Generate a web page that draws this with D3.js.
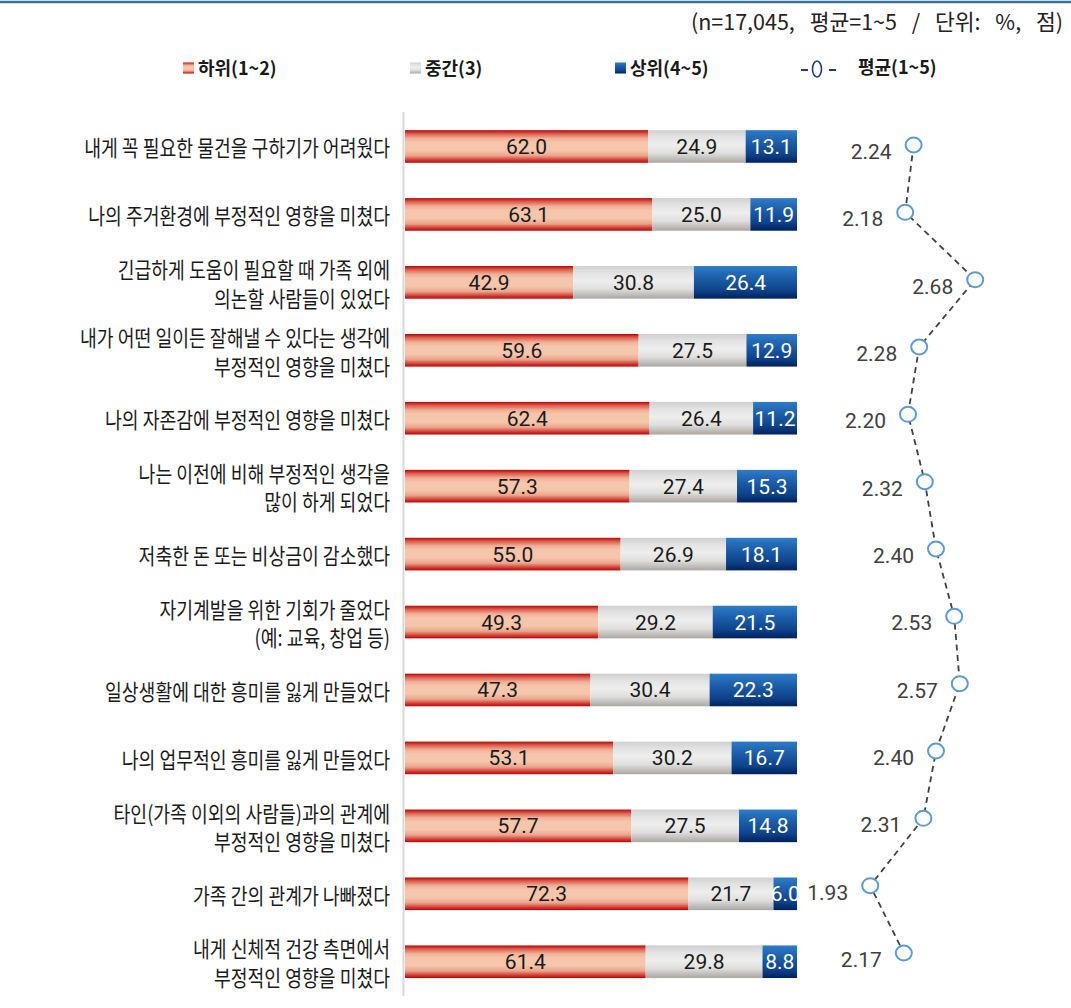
<!DOCTYPE html>
<html><head><meta charset="utf-8">
<script src="https://cdn.jsdelivr.net/npm/d3@7"></script>
<style>
html,body{margin:0;padding:0;background:#fff;}
svg{display:block;}
</style></head>
<body>
<svg id="chart" width="1071" height="1008"></svg>
<script>
const categories = [
  "내게 꼭 필요한 물건을 구하기가 어려웠다",
  "나의 주거환경에 부정적인 영향을 미쳤다",
  "긴급하게 도움이 필요할 때 가족 외에\n의논할 사람들이 있었다",
  "내가 어떤 일이든 잘해낼 수 있다는 생각에\n부정적인 영향을 미쳤다",
  "나의 자존감에 부정적인 영향을 미쳤다",
  "나는 이전에 비해 부정적인 생각을\n많이 하게 되었다",
  "저축한 돈 또는 비상금이 감소했다",
  "자기계발을 위한 기회가 줄었다\n(예: 교육, 창업 등)",
  "일상생활에 대한 흥미를 잃게 만들었다",
  "나의 업무적인 흥미를 잃게 만들었다",
  "타인(가족 이외의 사람들)과의 관계에\n부정적인 영향을 미쳤다",
  "가족 간의 관계가 나빠졌다",
  "내게 신체적 건강 측면에서\n부정적인 영향을 미쳤다"
];
const lowValues  = [62.0, 63.1, 42.9, 59.6, 62.4, 57.3, 55.0, 49.3, 47.3, 53.1, 57.7, 72.3, 61.4];
const midValues  = [24.9, 25.0, 30.8, 27.5, 26.4, 27.4, 26.9, 29.2, 30.4, 30.2, 27.5, 21.7, 29.8];
const highValues = [13.1, 11.9, 26.4, 12.9, 11.2, 15.3, 18.1, 21.5, 22.3, 16.7, 14.8, 6.0, 8.8];
const meanValues = [2.24, 2.18, 2.68, 2.28, 2.20, 2.32, 2.40, 2.53, 2.57, 2.40, 2.31, 1.93, 2.17];
const seriesNames = ["하위(1~2)", "중간(3)", "상위(4~5)"];
const meanName = "평균(1~5)";
const subtitle = "(n=17,045, 평균=1~5 / 단위: %, 점)";

const svg = d3.select("#chart");
const defs = svg.append("defs");

function grad(id, stops){
  const g = defs.append("linearGradient").attr("id", id)
    .attr("x1",0).attr("y1",0).attr("x2",0).attr("y2",1);
  stops.forEach(s => g.append("stop").attr("offset", s[0]).attr("stop-color", s[1]));
}
grad("gLow", [[0,"#c00000"],[0.1,"#d9574a"],[0.25,"#f0b096"],[0.38,"#f5c6ab"],[0.62,"#f5c6ab"],[0.78,"#eaa58d"],[0.9,"#d4473b"],[1,"#c00000"]]);
grad("gMid", [[0,"#cfcfcf"],[0.2,"#e2e2e2"],[0.45,"#eeeeee"],[0.7,"#e0dfde"],[1,"#aaa6a2"]]);
grad("gHigh", [[0,"#2e7cc8"],[0.35,"#1d5fab"],[0.75,"#0e4289"],[1,"#00215e"]]);
const fills = ["url(#gLow)", "url(#gMid)", "url(#gHigh)"];
const labelColors = ["#1a1a1a", "#1a1a1a", "#ffffff"];

// top rule
svg.append("line").attr("x1",0).attr("x2",1071).attr("y1",2).attr("y2",2)
  .attr("stroke","#3f6f9f").attr("stroke-width",2.5);

// subtitle
svg.append("text").attr("x",1063).attr("y",30).attr("text-anchor","end")
  .attr("font-family","'Noto Sans CJK KR', sans-serif").attr("font-size",21.5)
  .attr("word-spacing",10).attr("fill","#222").text(subtitle);

// scales
const x = d3.scaleLinear().domain([0,100]).range([405,797]);
const y = d3.scaleBand().domain(d3.range(categories.length)).range([112.5,995.7])
  .paddingInner(0.52).paddingOuter(0.26);
const ym = d3.scalePoint().domain(d3.range(categories.length)).range([145,953]);
const xm = d3.scaleLinear().domain([1.5,3.0]).range([810,1020]);

// stacked data
const rows = categories.map((c,i)=>({i, vals:[lowValues[i], midValues[i], highValues[i]]}));
const stack = d3.stack().keys([0,1,2]).value((d,k)=>d.vals[k]);
const layers = stack(rows);

defs.append("clipPath").attr("id","barClip").append("rect")
  .attr("x",x(0)).attr("y",0).attr("width",x(100)-x(0)).attr("height",1008);

const barG = svg.append("g");
layers.forEach((layer,k)=>{
  barG.selectAll(null).data(layer).enter().append("rect")
    .attr("x", d=>x(d[0])).attr("width", d=>Math.min(x(d[1]),x(100))-x(d[0]))
    .attr("y", d=>y(d.data.i)).attr("height", y.bandwidth())
    .attr("fill", fills[k]);
});
const lblG = svg.append("g").attr("clip-path","url(#barClip)");
layers.forEach((layer,k)=>{
  lblG.selectAll(null).data(layer).enter().append("text")
    .attr("x", d=>(x(d[0])+x(d[1]))/2).attr("y", d=>y(d.data.i)+y.bandwidth()/2+7.5)
    .attr("text-anchor","middle").attr("font-family","Roboto, sans-serif")
    .attr("font-size",21).attr("fill",labelColors[k])
    .text(d=>d3.format(".1f")(d.data.vals[k]));
});

// axis line
svg.append("line").attr("x1",403.5).attr("x2",403.5).attr("y1",112).attr("y2",996)
  .attr("stroke","#d9d9d9").attr("stroke-width",2);

// category labels
const catG = svg.append("g");
categories.forEach((c,i)=>{
  const lines = c.split("\n");
  const cy = y(i) + y.bandwidth()/2 + 2;
  const lh = 28.5;
  lines.forEach((ln,j)=>{
    const ly = cy + (j - (lines.length-1)/2)*lh + 8;
    catG.append("text").attr("transform",`translate(390,${ly}) scale(0.83,1)`)
      .attr("text-anchor","end").attr("font-family","'Noto Sans CJK KR', sans-serif")
      .attr("font-size",22).attr("fill","#1a1a1a").text(ln);
  });
});

// mean line
const line = d3.line().x((d,i)=>xm(d)).y((d,i)=>ym(i));
svg.append("path").attr("d", line(meanValues)).attr("fill","none")
  .attr("stroke","#404040").attr("stroke-width",1.8).attr("stroke-dasharray","6,4.5");
svg.selectAll(".pt").data(meanValues).enter().append("ellipse")
  .attr("cx",(d)=>xm(d)).attr("cy",(d,i)=>ym(i)).attr("rx",8).attr("ry",7.5)
  .attr("fill","#fff").attr("stroke","#5b9bd5").attr("stroke-width",2);
svg.selectAll(".ml").data(meanValues).enter().append("text")
  .attr("x",d=>xm(d)-22).attr("y",(d,i)=>ym(i)+14)
  .attr("text-anchor","end").attr("font-family","Roboto, sans-serif")
  .attr("font-size",21).attr("fill","#404040").text(d=>d3.format(".2f")(d));

// legend
const leg = svg.append("g");
const legX = [183, 410, 615];
seriesNames.forEach((n,k)=>{
  leg.append("rect").attr("x",legX[k]).attr("y",62.5).attr("width",11).attr("height",11).attr("fill",fills[k]);
  leg.append("text").attr("transform",`translate(${legX[k]+15},75)`)
    .attr("font-family","'Noto Sans CJK KR', sans-serif").attr("font-weight","bold")
    .attr("font-size",18).attr("fill","#1a1a1a").text(n);
});
leg.append("line").attr("x1",801).attr("x2",808).attr("y1",70).attr("y2",70).attr("stroke","#1f3a7a").attr("stroke-width",2);
leg.append("line").attr("x1",829).attr("x2",836).attr("y1",70).attr("y2",70).attr("stroke","#1f3a7a").attr("stroke-width",2);
leg.append("ellipse").attr("cx",817).attr("cy",69).attr("rx",4.5).attr("ry",8).attr("fill","none").attr("stroke","#1f3a7a").attr("stroke-width",1.6);
leg.append("text").attr("transform","translate(858,74)")
  .attr("font-family","'Noto Sans CJK KR', sans-serif").attr("font-weight","bold")
  .attr("font-size",18).attr("fill","#1a1a1a").text(meanName);
</script>
</body></html>
